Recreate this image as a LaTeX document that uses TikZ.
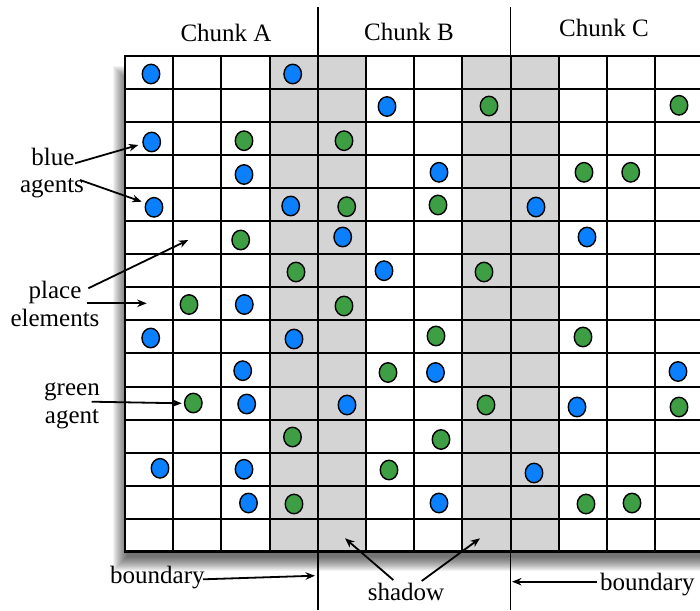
\documentclass[tikz,border=0pt]{standalone}
\usepackage{fontspec}
\setmainfont{Liberation Serif}
\usetikzlibrary{arrows.meta,shapes.geometric}
\definecolor{agblue}{RGB}{10,128,255}
\definecolor{aggreen}{RGB}{62,158,68}
\definecolor{shadegray}{RGB}{212,212,212}
\tikzset{
  lbl/.style={font=\fontsize{25}{30}\selectfont, inner sep=0pt, anchor=base},
  agent/.style={ellipse, draw=black, line width=1.4pt, minimum width=17.5pt, minimum height=19.5pt, inner sep=0pt},
  bagent/.style={agent, fill=agblue},
  gagent/.style={agent, fill=aggreen},
  pointer/.style={line width=1.8pt, -{Stealth[length=9.5pt,width=7.5pt]}},
  gridline/.style={line width=2pt},
  bordline/.style={line width=2.8pt},
  chunkline/.style={line width=1.6pt},
}
\begin{document}
\begin{tikzpicture}[x=1pt,y=-1pt]
\useasboundingbox (0,0) rectangle (700,610);
% soft drop shadow of the grid
\foreach \i in {0,...,14}
  \fill[black,opacity=0.05] (127-\i,80-\i) rectangle (720,557+\i);
% grid background and shadow columns
\fill[white] (125,56) rectangle (704,551.75);
\foreach \c in {3,4,7,8}
  \fill[shadegray] ({125+48.2*\c},56) rectangle ({125+48.2*(\c+1)},551.75);
% grid lines
\foreach \c in {1,...,11}
  \draw[gridline] ({125+48.2*\c},56) -- ({125+48.2*\c},551.75);
\foreach \r in {1,...,14}
  \draw[gridline] (125,{56+33.05*\r}) -- (704,{56+33.05*\r});
\draw[bordline] (704,56) -- (125,56) -- (125,551.75) -- (704,551.75);
% chunk boundaries
\draw[chunkline] (317.8,7) -- (317.8,610);
\draw[chunkline] (510.6,7) -- (510.6,610);
% chunk titles
\node[lbl] (chA) at (226,41.5) {Chunk A};
\node[lbl] (chB) at (409,41) {Chunk B};
\node[lbl] (chC) at (604,37) {Chunk C};
% blue agents
\foreach [count=\n] \x/\y in {151/74, 292.7/74, 387/106.5, 151.7/142, 244/174.5, 439/172.3,
  154/207.3, 290.7/206, 536/207, 342.7/237, 587/237, 384/270.7, 244.3/304.5,
  150.7/338, 294/339, 242.7/370.7, 435.5/372.5, 678/371.5, 246.7/404, 347/405, 577/407,
  160/468.3, 244/469.3, 534/473, 248.5/503, 439/503}
  \node[bagent] (b\n) at (\x,\y) {};
% green agents
\foreach [count=\n] \x/\y in {489/106, 679/105.3, 244/140.7, 344/140.7, 584/172.3, 630.7/172.3,
  346.7/206.7, 438/205, 240.7/240, 296/272, 484/272, 189/304.5, 344/306,
  436/336, 583/337, 388/372.5, 193.3/403, 486/405, 679/407, 292.5/437, 441/439.5,
  389/470, 294/504, 586/504, 632/503}
  \node[gagent] (g\n) at (\x,\y) {};
% side labels
\node[lbl] (tblue) at (53,165) {blue};
\node[lbl] (tagents) at (52,192) {agents};
\node[lbl] (tplace) at (55,298) {place};
\node[lbl] (telem) at (55,326) {elements};
\node[lbl] (tgreen) at (72,395) {green};
\node[lbl] (tagent) at (72,423) {agent};
\node[lbl, anchor=base west] (tbndL) at (110,583) {boundary};
\node[lbl] (tshadow) at (406,600) {shadow};
\node[lbl, anchor=base west] (tbndR) at (600,590) {boundary};
% arrow end points
\coordinate (s1) at (75,163.3);    \coordinate (e1) at (138.3,145);
\coordinate (s2) at (80,180);      \coordinate (e2) at (141.7,201.7);
\coordinate (s3) at (88.3,288.3);  \coordinate (e3) at (188.3,240);
\coordinate (s4) at (86.7,303.3);  \coordinate (e4) at (146.7,303.3);
\coordinate (s5) at (91.7,401.7);  \coordinate (e5) at (181.7,403.3);
\coordinate (s6) at (203,579.3);   \coordinate (e6) at (315,575.7);
\coordinate (s7) at (596.7,581.7); \coordinate (e7) at (512,581.7);
\coordinate (s8) at (393.3,580);   \coordinate (e8) at (345,538.3);
\coordinate (s9) at (421.7,581);   \coordinate (e9) at (480,538.3);
\foreach \k in {1,...,9}
  \draw[pointer] (s\k) -- (e\k);
\end{tikzpicture}
\end{document}
